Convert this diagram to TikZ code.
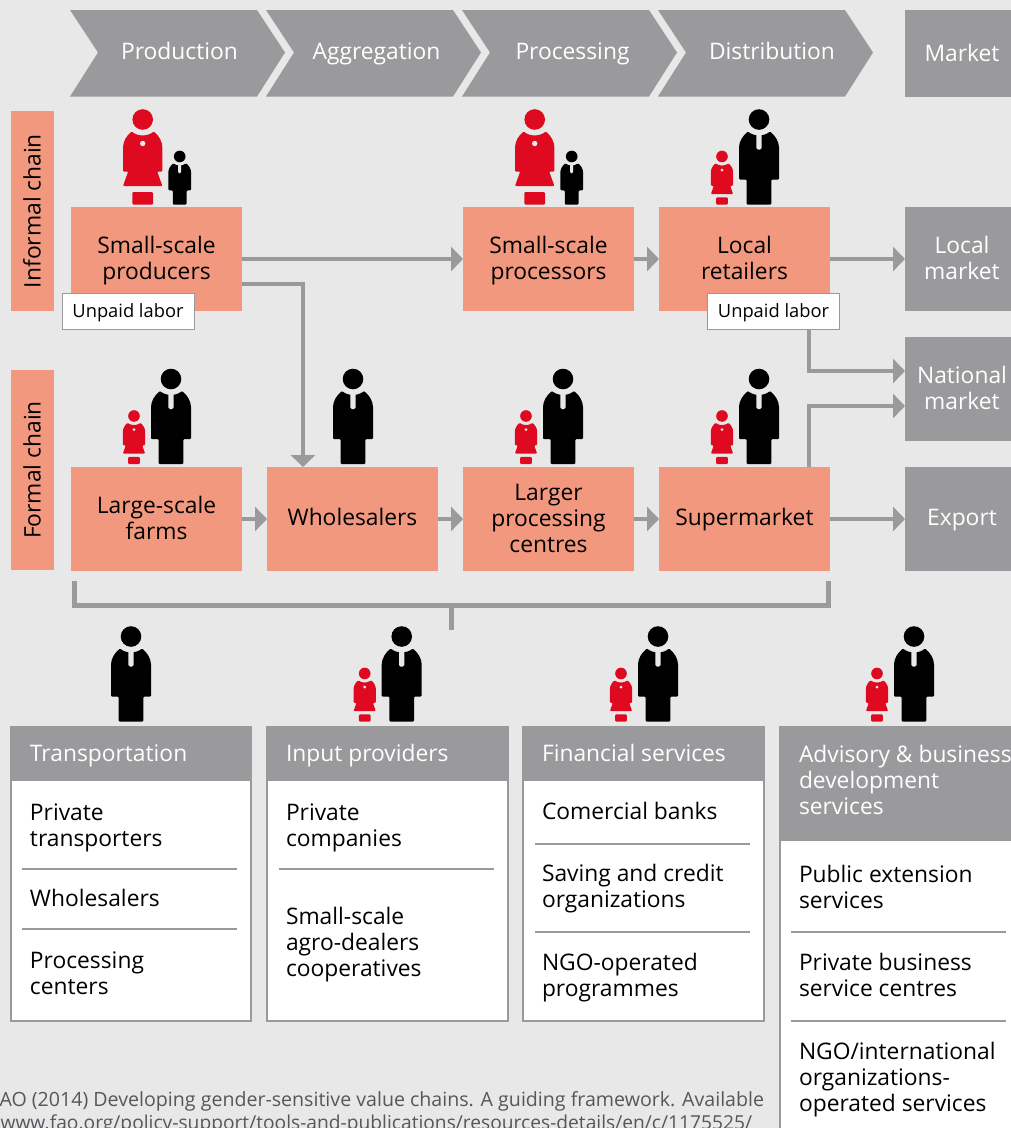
\documentclass[tikz,border=0pt]{standalone}
\usepackage{fontspec}
\setmainfont{Open Sans}
\usetikzlibrary{arrows.meta,positioning}
\definecolor{bgrey}{HTML}{E8E8E8}
\definecolor{dgrey}{HTML}{9A9A9C}
\definecolor{salmon}{HTML}{F2987F}
\definecolor{wred}{HTML}{DF0A20}
\definecolor{srcgrey}{HTML}{55575A}
\newcommand{\bodyfont}{\fontsize{22.8}{26}\selectfont}
\newcommand{\lowstrut}{\rule[-8pt]{0pt}{8pt}}
% several lines in one node
\newcommand{\ml}[1]{\rule{0pt}{23pt}#1\lowstrut}
\tikzset{
  base/.style={inner sep=0pt,outer sep=0pt,align=center,font=\bodyfont,execute at begin node=\rule{0pt}{24pt},execute at end node=\lowstrut},
  single/.style={execute at begin node=\rule{0pt}{18.5pt},execute at end node=\rule[-12pt]{0pt}{12pt}},
  actor/.style={base,fill=salmon,minimum width=171pt,minimum height=104pt},
  side/.style={base,fill=salmon,rotate=90,minimum width=200pt,minimum height=43pt},
  market/.style={base,fill=dgrey,text=white,minimum width=114pt,minimum height=104pt},
  unpaid/.style={base,draw=dgrey,line width=1pt,fill=white,minimum width=132pt,minimum height=36pt,font=\fontsize{18.3}{20}\selectfont,execute at begin node=\rule{0pt}{18pt},execute at end node=\rule[-11pt]{0pt}{11pt}},
  flow/.style={draw=dgrey,line width=4.5pt,-{Triangle[length=12pt,width=24pt]}},
  stage/.style={fill=dgrey},
  stagetext/.style={base,text=white},
  item/.style={base,anchor=west,align=left},
  head/.style={base,anchor=west,align=left,text=white},
  rule/.style={draw=dgrey,line width=2pt},
  srctext/.style={inner sep=0pt,outer sep=0pt,anchor=base east,text=srcgrey},
  pics/man/.style={code={
    \fill[black] (0,-85) circle (10.3);
    \fill[black,rounded corners=1pt] (-12.3,0) -- (-12.3,-25) -- (-20,-25) -- (-20,-56)
      .. controls (-20,-63) and (-16,-69) .. (-11,-73)
      .. controls (-5,-68) and (5,-68) .. (11,-73)
      .. controls (16,-69) and (20,-63) .. (20,-56)
      -- (20,-25) -- (12.3,-25) -- (12.3,0) -- cycle;
    \fill[bgrey,rounded corners=1.5pt] (-2.7,-72) rectangle (2.7,-55);
  }},
  pics/woman/.style={code={
    \fill[wred] (0,-85) circle (10.3);
    \fill[wred,rounded corners=1pt] (-19.7,-33) -- (-19.7,-56)
      .. controls (-19.7,-63) and (-16,-69) .. (-11,-73)
      .. controls (-5,-68) and (5,-68) .. (11,-73)
      .. controls (16,-69) and (19.7,-63) .. (19.7,-56)
      -- (19.7,-33) -- (14.5,-33) -- (19.7,-18.5) -- (-19.7,-18.5) -- (-14.5,-33) -- cycle;
    \fill[bgrey] (0,-61) circle (2.7);
    \fill[wred,rounded corners=1pt] (-10.3,-12.5) rectangle (10.3,0);
  }}
}
\begin{document}
\begin{tikzpicture}[x=1pt,y=-1pt]
\useasboundingbox (0,0) rectangle (1011,1128);
\clip (0,0) rectangle (1011,1128);
\fill[bgrey] (0,0) rectangle (1011,1128);
% stages along the top
\foreach \x/\tx/\n/\t in {70/179.5/sprod/Production,266/376.5/sagg/Aggregation,462/572.5/sproc/Processing,658/772/sdist/Distribution}
{
\fill[stage] (\x,10) -- ++(187,0) -- ++(28,42.5) -- ++(-28,44) -- ++(-187,0) -- ++(28,-44) -- cycle;
\node[stagetext] (\n) at (\tx,51.5) {\t};
}
% side labels
\node[side] (informal) at (32.5,211) {Informal chain};
\node[side] (formal) at (32.5,470) {Formal chain};
% the two chains
\node[actor] (smallprod) at (156.5,259) {\ml{Small-scale\\producers}};
\node[actor] (smallproc) at (548.5,259) {\ml{Small-scale\\processors}};
\node[actor] (retail) at (744.5,259) {\ml{Local\\retailers}};
\node[actor] (farms) at (156.5,519) {\ml{Large-scale\\farms}};
\node[actor,single] (whole) at (352.5,519) {Wholesalers};
\node[actor] (largeproc) at (548.5,519) {\ml{Larger\\processing\\centres}};
\node[actor,single] (super) at (744.5,519) {Supermarket};
% markets
\node[market,minimum height=87pt] (mkt) at (962,53) {Market};
\node[market] (local) at (962,259) {\ml{Local\\market}};
\node[market] (national) at (962,389) {\ml{National\\market}};
\node[market,single] (export) at (962,519) {Export};
\node[unpaid] (unpaid1) at (128,311) {Unpaid labor};
\node[unpaid] (unpaid2) at (773.5,311) {Unpaid labor};
% connectors
\draw[flow] (smallprod) -- (smallproc);
\draw[flow] (smallproc) -- (retail);
\draw[flow] (retail) -- (local);
\draw[flow] ([yshift=-25pt]smallprod.east) -| ([xshift=-49.5pt]whole.north);
\draw[flow] (farms) -- (whole);
\draw[flow] (whole) -- (largeproc);
\draw[flow] (largeproc) -- (super);
\draw[flow] (super) -- (export);
\draw[flow] ([xshift=35.5pt]unpaid2.south) |- ([yshift=18pt]national.west);
\draw[flow] ([xshift=64.5pt]super.north) |- ([yshift=-17pt]national.west);
% bracket under the chains
\coordinate (brleft) at ([xshift=3.5pt,yshift=-10pt]farms.south west);
\coordinate (brright) at ([xshift=-1.5pt,yshift=-10pt]super.south east);
\coordinate (brstem) at (451,630);
\draw[dgrey,line width=5pt] (brleft) -- ++(0,24) -| (brright);
\draw[dgrey,line width=5pt] (brstem) -- (brstem |- 0,605);
% people
\foreach \x/\y/\s in {142.7/204.5/1,534.7/204.5/1,134/464/.565,526/464/.565,722/464/.565,722/204.5/.565,364.7/721.5/.565,621/721.5/.565,877/721.5/.565}
\path (\x,\y) pic[scale=\s] {woman};
\foreach \x/\y/\s in {179.7/204.5/.565,571.7/204.5/.565,759/204.5/1,171/464/1,353/464/1,563/464/1,759/464/1,131/721.5/1,401.7/721.5/1,658/721.5/1,914/721.5/1}
\path (\x,\y) pic[scale=\s] {man};
% service cards
\foreach \x/\w/\h/\b in {11/240/781/1021,267/241/781/1021,523/241/781/1021,780/240/841/1140}
{
\filldraw[draw=dgrey,line width=2.5pt,fill=white] (\x,760) rectangle ++(\w,\b-760);
\fill[dgrey] (\x-1.25,726) rectangle (\x+\w+1.25,\h);
}
\foreach \x/\y in {22/869,22/929,279/869,535/844,535/932,791/932,791/1021}
\draw[rule] (\x,\y) -- ++(215,0);
\node[head] (htrans) at (30,753.5) {Transportation};
\node[head] (hinput) at (286,753.5) {Input providers};
\node[head] (hfin) at (542,753.5) {Financial services};
\node[head] (hadv) at (799,780.5) {\ml{Advisory \& business\\development\\services}};
\node[item] (t1) at (30,826) {\ml{Private\\transporters}};
\node[item] (t2) at (30,898) {Wholesalers};
\node[item] (t3) at (30,974) {\ml{Processing\\centers}};
\node[item] (i1) at (286,826) {\ml{Private\\companies}};
\node[item] (i2) at (286,943) {\ml{Small-scale\\agro-dealers\\cooperatives}};
\node[item] (f1) at (542,811) {Comercial banks};
\node[item] (f2) at (542,887) {\ml{Saving and credit\\organizations}};
\node[item] (f3) at (542,976) {\ml{NGO-operated\\programmes}};
\node[item] (a1) at (799,888) {\ml{Public extension\\services}};
\node[item] (a2) at (799,976) {\ml{Private business\\service centres}};
\node[item] (a3) at (799,1078) {\ml{NGO/international\\organizations-\\operated services}};
% source line
\node[srctext,font=\fontsize{19.6}{24}\selectfont] (source1) at (764,1106) {AO (2014) Developing gender-sensitive value chains. A guiding framework. Available};
\node[srctext,font=\fontsize{19.2}{24}\selectfont] (source2) at (752,1129) {www.fao.org/policy-support/tools-and-publications/resources-details/en/c/1175525/};
\end{tikzpicture}
\end{document}
